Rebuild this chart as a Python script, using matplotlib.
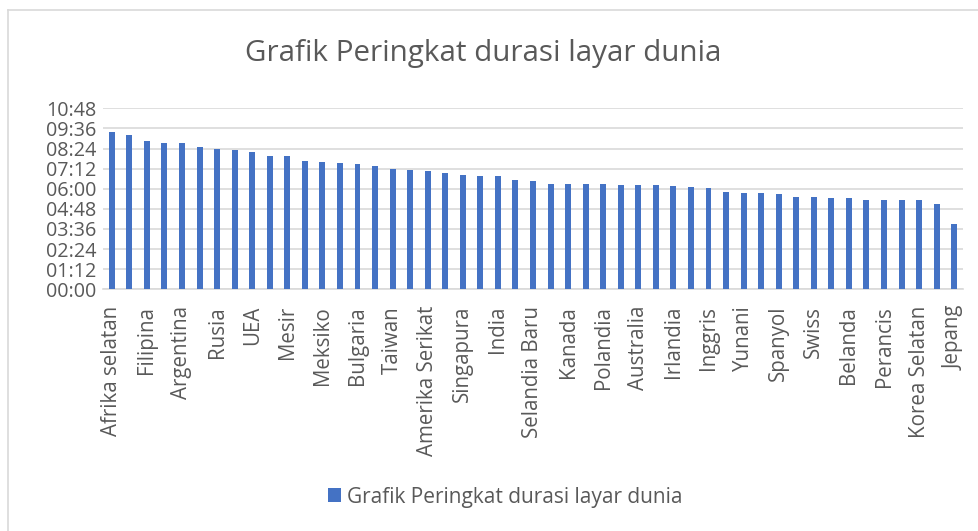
import matplotlib
matplotlib.use("Agg")
import matplotlib.pyplot as plt
from matplotlib.ticker import FuncFormatter, FixedLocator
from matplotlib.lines import Line2D
from matplotlib.patches import Patch

# Data (minutes of daily screen time)
countries = [
    "Afrika selatan", "Brasil", "Filipina", "Kolombia", "Argentina", "Malaysia",
    "Rusia", "Chili", "UEA", "Turki", "Mesir", "Thailand", "Meksiko", "Portugal",
    "Bulgaria", "Rumania", "Taiwan", "Indonesia", "Amerika Serikat", "Hong Kong",
    "Singapura", "Vietnam", "India", "Israel", "Selandia Baru", "Italia", "Kanada",
    "Belgia", "Polandia", "Maroko", "Australia", "Swedia", "Irlandia", "Jerman",
    "Inggris", "Pakistan", "Yunani", "Norwegia", "Spanyol", "Austria", "Swiss",
    "Finlandia", "Belanda", "Tiongkok", "Perancis", "Denmark", "Korea Selatan",
    "Kenya", "Jepang",
]
minutes = [
    564, 554, 531, 524, 522, 511, 501, 498, 492, 478, 476, 460, 457, 451, 449,
    441, 432, 427, 423, 417, 408, 405, 404, 390, 388, 378, 377, 377, 376, 375,
    372, 372, 371, 365, 361, 347, 346, 345, 340, 331, 329, 328, 328, 321, 321,
    321, 318, 306, 234,
]
series_name = "Grafik Peringkat durasi layar dunia"
ytick_minutes = list(range(0, 649, 72))

W, H = 979, 531
fig = plt.figure(figsize=(W / 100, H / 100), dpi=100)
fig.patch.set_facecolor("white")

font = "Open Sans"
txt_color = "#595959"

left, right, top, bottom = 103, 963, 108.3, 289.3
ax = fig.add_axes([left / W, 1 - bottom / H, (right - left) / W, (bottom - top) / H])

x = list(range(len(countries)))
ax.bar(x, minutes, width=0.34, color="#4472C4", zorder=3)

ax.set_xlim(-0.5, len(countries) - 0.5)
ax.set_ylim(0, 648)
ax.yaxis.set_major_locator(FixedLocator(ytick_minutes))
ax.yaxis.set_major_formatter(FuncFormatter(lambda v, p: f"{int(v)//60:02d}:{int(v)%60:02d}"))
ax.grid(axis="y", color="#D9D9D9", linewidth=1.2, zorder=0)
for s in ["top", "right", "left"]:
    ax.spines[s].set_visible(False)
ax.spines["bottom"].set_color("#D9D9D9")
ax.spines["bottom"].set_linewidth(1.2)

ax.set_xticks(x[::2])
ax.set_xticklabels(countries[::2], rotation=90, fontsize=14.8, family=font, color=txt_color)
ax.tick_params(axis="x", length=0, pad=12)
for lab in ax.get_yticklabels():
    lab.set_family(font)
    lab.set_fontsize(14.2)
    lab.set_color(txt_color)
ax.tick_params(axis="y", length=0, pad=5)

fig.text(483 / W, 1 - 54 / H, series_name, ha="center", va="center",
         fontsize=21.3, family=font, color=txt_color)

handle = Patch(facecolor="#4472C4", edgecolor="none")
fig.legend([handle], [series_name], loc="center", bbox_to_anchor=(505 / W, 1 - 497 / H),
           frameon=False, prop={"family": font, "size": 15}, labelcolor=txt_color,
           handlelength=0.65, handleheight=0.65, handletextpad=0.25)

# chart border (top and left only visible)
fig.add_artist(Line2D([8.5 / W, 8.5 / W], [0, 1 - 9.5 / H], transform=fig.transFigure,
                      color="#D9D9D9", linewidth=1.2))
fig.add_artist(Line2D([8.5 / W, 1], [1 - 9.5 / H, 1 - 9.5 / H], transform=fig.transFigure,
                      color="#D9D9D9", linewidth=1.2))

fig.savefig("out.png", dpi=100)
